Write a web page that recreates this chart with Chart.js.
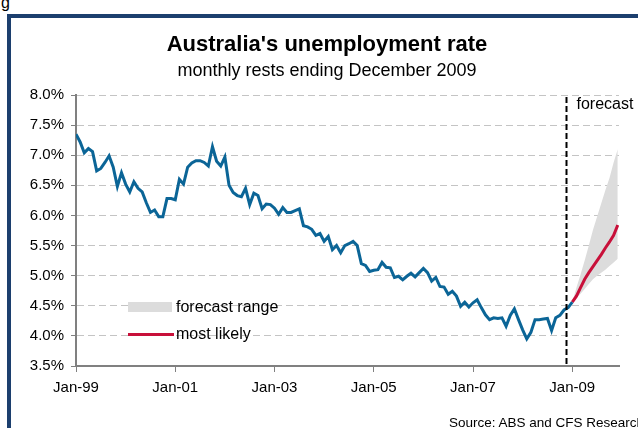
<!DOCTYPE html>
<html>
<head>
<meta charset="utf-8">
<title>Australia's unemployment rate</title>
<script src="https://cdn.jsdelivr.net/npm/chart.js@4.4.1/dist/chart.umd.min.js"></script>
<style>
  html, body { margin: 0; padding: 0; background: #fff; }
  body { width: 638px; height: 428px; position: relative; overflow: hidden;
         font-family: "Liberation Sans", Arial, sans-serif; color: #000; }
  #frame { position: absolute; left: 7px; top: 14px; width: 700px; height: 500px;
           border-left: 4px solid #1c3f6e; border-top: 4px solid #1c3f6e; }
  #cap { position: absolute; left: 1px; top: -5px; font-size: 16px; line-height: 16px; }
  #chart { position: absolute; left: 0; top: 0; }
  .txt { position: absolute; white-space: nowrap; }
  #title { left: 0; width: 654px; top: 31px; text-align: center; font-weight: bold; font-size: 22px; line-height: 26px; }
  #subtitle { left: 0; width: 654px; top: 59px; text-align: center; font-size: 18px; line-height: 22px; }
  #source { left: 449px; top: 414px; font-size: 13.5px; line-height: 17px; }
  .legend-box { position: absolute; left: 128px; top: 302px; width: 44px; height: 10px; background: #dcdcdc; }
  .legend-line { position: absolute; left: 128px; top: 333px; width: 46px; height: 3px; background: #c8103a; }
  .legend-txt { font-size: 16px; line-height: 18px; left: 176px; }
</style>
</head>
<body>
<div id="frame"></div>
<div id="cap" class="txt">g</div>
<canvas id="chart" width="638" height="428"></canvas>
<div id="title" class="txt">Australia's unemployment rate</div>
<div id="subtitle" class="txt">monthly rests ending December 2009</div>
<div class="legend-box"></div>
<div class="txt legend-txt" style="top:298px">forecast range</div>
<div class="legend-line"></div>
<div class="txt legend-txt" style="top:325px">most likely</div>
<div id="source" class="txt">Source: ABS and CFS Research</div>

<script>
  // Datos: índice mensual, 0 = Jan-99
  const X_TICK_VALUES = [0, 24, 48, 72, 96, 120];
  const X_TICK_LABELS = ['Jan-99', 'Jan-01', 'Jan-03', 'Jan-05', 'Jan-07', 'Jan-09'];
  const Y_TICKS = [3.5, 4.0, 4.5, 5.0, 5.5, 6.0, 6.5, 7.0, 7.5, 8.0];

  // tasa de desempleo observada, Jan-99 .. Jan-09
  const ACTUAL = [
    7.35, 7.22, 7.04, 7.11, 7.06, 6.74, 6.78, 6.88, 6.99, 6.80, 6.48, 6.71,
    6.52, 6.39, 6.56, 6.45, 6.39, 6.21, 6.05, 6.09, 5.98, 5.98, 6.28, 6.28,
    6.26, 6.60, 6.52, 6.80, 6.87, 6.91, 6.91, 6.88, 6.82, 7.14, 6.90, 6.82,
    6.97, 6.50, 6.38, 6.33, 6.31, 6.45, 6.18, 6.37, 6.33, 6.11, 6.19, 6.18,
    6.12, 6.02, 6.13, 6.05, 6.05, 6.08, 6.11, 5.83, 5.81, 5.77, 5.67, 5.70,
    5.57, 5.65, 5.43, 5.50, 5.38, 5.50, 5.53, 5.57, 5.50, 5.20, 5.17, 5.07,
    5.09, 5.10, 5.22, 5.14, 5.13, 4.97, 4.99, 4.93, 4.99, 5.04, 4.98, 5.05,
    5.12, 5.05, 4.91, 4.97, 4.82, 4.81, 4.69, 4.74, 4.66, 4.49, 4.56, 4.48,
    4.55, 4.60, 4.47, 4.35, 4.27, 4.30, 4.29, 4.30, 4.16, 4.34, 4.45, 4.27,
    4.10, 3.95, 4.06, 4.27, 4.27, 4.28, 4.29, 4.09, 4.30, 4.34, 4.43, 4.47,
    4.56
  ];
  const ACTUAL_START = 0;

  // pronóstico, Jan-09 .. Dec-09
  const FORECAST_START = 120;
  const FORECAST_MID  = [4.56, 4.66, 4.80, 4.94, 5.05, 5.15, 5.25, 5.35, 5.46, 5.56, 5.67, 5.84];
  const FORECAST_HIGH = [4.56, 4.80, 5.02, 5.25, 5.50, 5.76, 5.98, 6.20, 6.42, 6.62, 6.88, 7.10];
  const FORECAST_LOW  = [4.56, 4.62, 4.70, 4.78, 4.86, 4.94, 5.00, 5.05, 5.10, 5.16, 5.22, 5.28];

  const FORECAST_DIVIDER = 118.4;
  const X_MAX = 131.3;

  const FONT = '"Liberation Sans", Arial, sans-serif';
  const COLORS = { actual: '#0b6597', mid: '#c8103a', band: '#dcdcdc', grid: '#c4c4c4', axis: '#808080' };

  const toPoints = (arr, start) => arr.map((y, i) => ({ x: start + i, y }));

  // línea vertical "forecast"
  const forecastMarker = {
    id: 'forecastMarker',
    afterDatasetsDraw(chart) {
      const { ctx, chartArea, scales } = chart;
      const x = Math.round(scales.x.getPixelForValue(FORECAST_DIVIDER)) + 0.5;
      ctx.save();
      ctx.strokeStyle = '#000';
      ctx.lineWidth = 2;
      ctx.setLineDash([6, 3]);
      ctx.beginPath();
      ctx.moveTo(x, chartArea.top + 2);
      ctx.lineTo(x, chartArea.bottom);
      ctx.stroke();
      ctx.setLineDash([]);
      ctx.fillStyle = '#000';
      ctx.font = '16px ' + FONT;
      ctx.textBaseline = 'middle';
      ctx.fillText('forecast', x + 10, chartArea.top + 10);
      ctx.restore();
    }
  };

  Chart.defaults.font.family = FONT;
  Chart.defaults.color = '#000';

  new Chart(document.getElementById('chart'), {
    type: 'line',
    data: {
      datasets: [
        { label: 'actual', data: toPoints(ACTUAL, ACTUAL_START), borderColor: COLORS.actual,
          borderWidth: 3, pointRadius: 0, fill: false, tension: 0 },
        { label: 'most likely', data: toPoints(FORECAST_MID, FORECAST_START), borderColor: COLORS.mid,
          borderWidth: 3, pointRadius: 0, fill: false, tension: 0 },
        { label: 'forecast range', data: toPoints(FORECAST_HIGH, FORECAST_START), borderWidth: 0,
          borderColor: 'rgba(0,0,0,0)', backgroundColor: COLORS.band, pointRadius: 0, fill: '+1' },
        { label: 'low', data: toPoints(FORECAST_LOW, FORECAST_START), borderWidth: 0,
          borderColor: 'rgba(0,0,0,0)', pointRadius: 0, fill: false }
      ]
    },
    options: {
      responsive: false,
      animation: false,
      devicePixelRatio: 1,
      layout: { padding: { top: 95, right: 19, left: 0, bottom: 0 } },
      plugins: {
        legend: { display: false },
        tooltip: { enabled: false },
        filler: { drawTime: 'beforeDatasetsDraw' }
      },
      scales: {
        x: {
          type: 'linear',
          min: 0,
          max: X_MAX,
          afterFit(scale) { scale.height = 62; },
          afterBuildTicks(scale) { scale.ticks = X_TICK_VALUES.map(v => ({ value: v })); },
          ticks: {
            autoSkip: false, maxRotation: 0, padding: 7,
            font: { size: 15 },
            callback: v => X_TICK_LABELS[X_TICK_VALUES.indexOf(v)]
          },
          grid: { drawOnChartArea: false, drawTicks: true, tickLength: 6, tickColor: COLORS.axis, tickWidth: 1 },
          border: { color: COLORS.axis, width: 2 }
        },
        y: {
          min: Y_TICKS[0],
          max: Y_TICKS[Y_TICKS.length - 1],
          afterFit(scale) { scale.width = 76; },
          afterBuildTicks(scale) { scale.ticks = Y_TICKS.map(v => ({ value: v })); },
          ticks: { padding: 7, font: { size: 15 }, callback: v => v.toFixed(1) + '%' },
          grid: { color: COLORS.grid, lineWidth: 1, tickLength: 5, tickColor: COLORS.axis, tickWidth: 1 },
          border: { color: COLORS.axis, width: 2, dash: [7, 4] }
        }
      }
    },
    plugins: [forecastMarker]
  });
</script>
</body>
</html>
